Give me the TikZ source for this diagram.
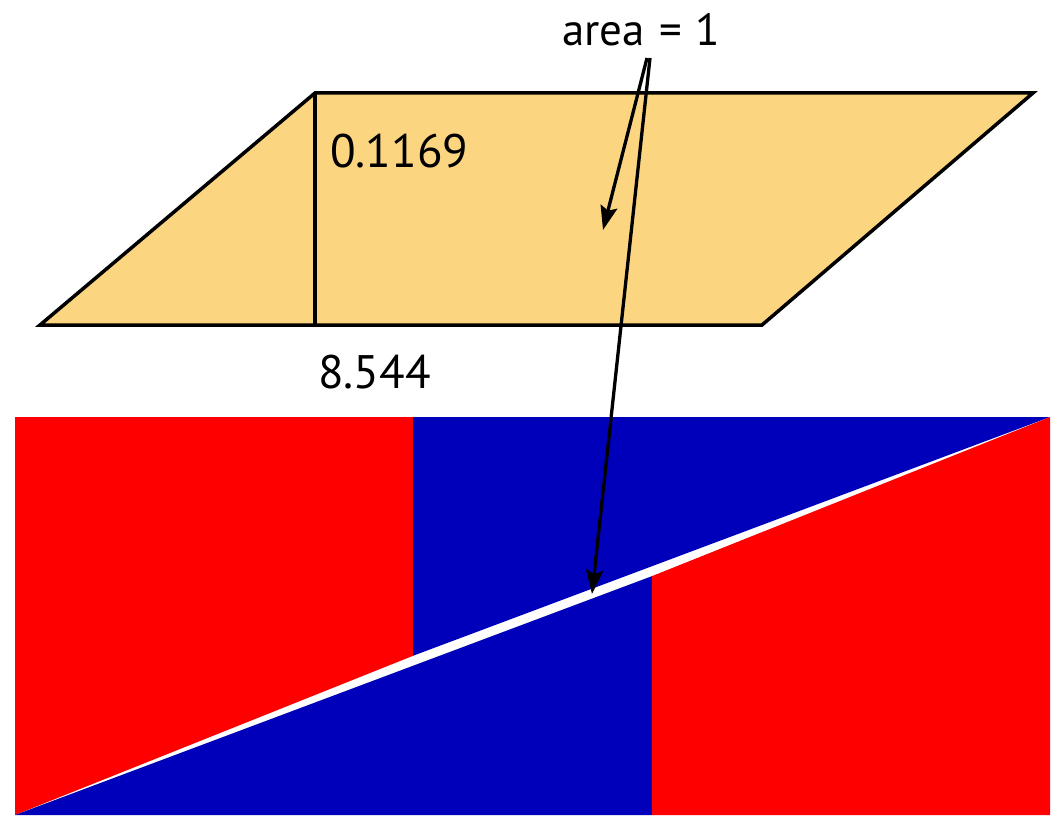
\documentclass[tikz,border=0pt]{standalone}
\usepackage{fontspec}
\setmainfont{PT Sans}
\usetikzlibrary{arrows.meta}
\definecolor{sand}{RGB}{252,213,128}
\definecolor{pred}{RGB}{255,0,0}
\definecolor{pblue}{RGB}{0,0,187}
\tikzset{
  outline/.style={draw=black, line width=3.5pt, line join=miter},
  piece/.style={draw=none},
  pointer/.style={draw=black, line width=3.3pt, -{Stealth[length=24pt,width=17pt,inset=4pt]}},
  biglabel/.style={inner sep=0pt, font=\fontsize{47}{50}\selectfont},
  toplabel/.style={inner sep=0pt, font=\fontsize{45}{47}\selectfont}
}
\begin{document}
\begin{tikzpicture}[x=1pt,y=-1pt]
\useasboundingbox (0,0) rectangle (1057,818);
% parallelogram
\coordinate (pa) at (40,325);
\coordinate (pb) at (762,325);
\coordinate (pc) at (1033,93);
\coordinate (pd) at (315,93);
\coordinate (pf) at (315,325);
\filldraw[fill=sand, outline] (pa) -- (pb) -- (pc) -- (pd) -- cycle;
\draw[outline] (pd) -- (pf);
\node[biglabel, anchor=base west] (h) at (330,168) {0.1169};
\node[biglabel, anchor=base west] (b) at (318,388) {8.544};
% rectangle pieces (unit = 79.6px, origin bottom-left (15,815))
\def\u{79.6}
\coordinate (r0) at (15,815);
\path[fill=pred, piece] (15,417) -- ({15+5*\u},417) -- ({15+5*\u},{815-2*\u}) -- (r0) -- cycle;
\path[fill=pblue, piece] ({15+5*\u},417) -- (1050,417) -- ({15+5*\u},{815-2*\u}) -- cycle;
\path[fill=pblue, piece] (r0) -- ({15+8*\u},815) -- ({15+8*\u},{815-3*\u}) -- cycle;
\path[fill=pred, piece] ({15+8*\u},815) -- (1050,815) -- (1050,417) -- ({15+8*\u},{815-3*\u}) -- cycle;
% label and arrows
\node[toplabel, anchor=base west] (area) at (562,46) {area\hspace{14pt}=\hspace{14pt}1};
\coordinate (s1) at (647,58);
\coordinate (s2) at (650,58);
\coordinate (t1) at (603,230);
\coordinate (t2) at (592,594);
\draw[pointer] (s1) -- (t1);
\draw[pointer] (s2) -- (t2);
\end{tikzpicture}
\end{document}
